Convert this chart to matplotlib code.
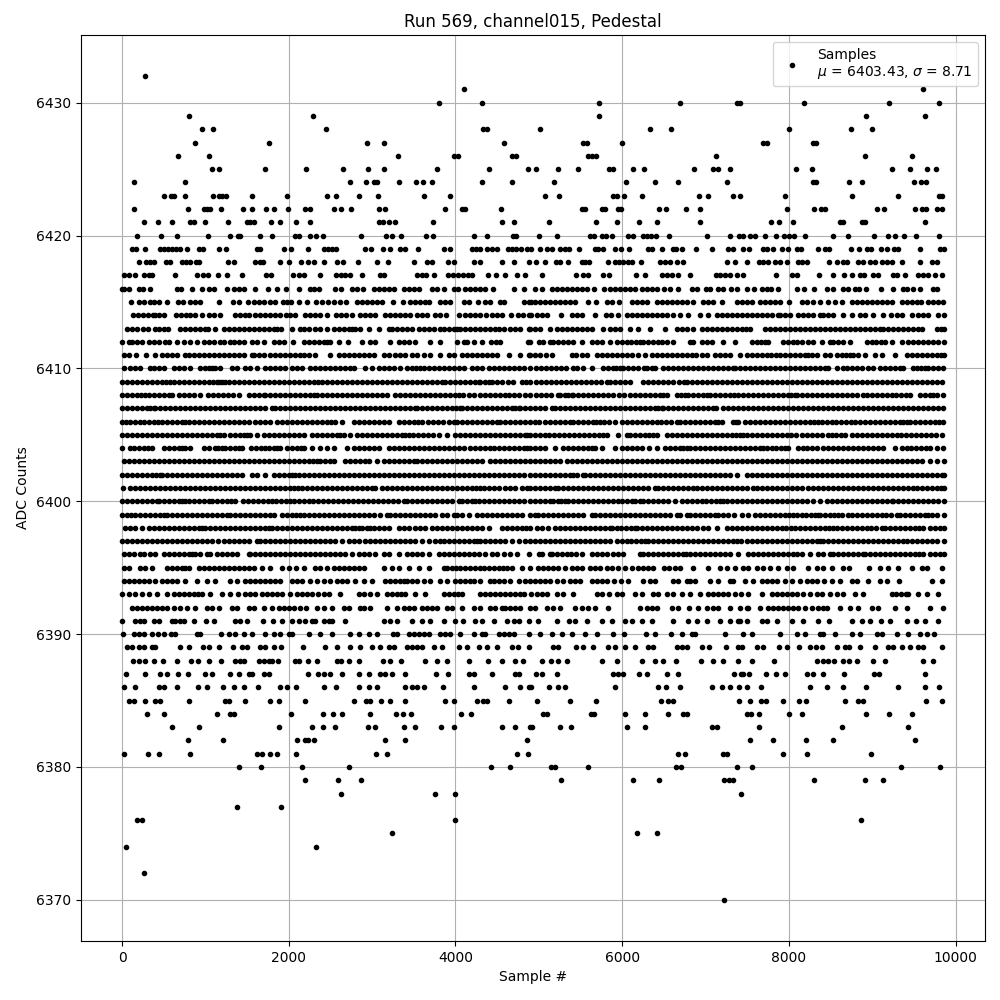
"""
plot.py

Pedestal samples for one ADC channel. ADC counts are integers, so the sample
numbers are kept in one list per count, as read off the picture.
"""

import matplotlib
matplotlib.use("Agg")
import matplotlib.pyplot as plt

s6432 = [272]
s6431 = [4100, 9612]
s6430 = [3800, 4320, 5724, 6696, 7380, 7412, 8184, 9204, 9796]
s6429 = [800, 2288, 5724, 8928, 9628]
s6428 = [956, 1088, 2444, 4332, 4380, 5016, 6328, 6588, 8004, 8748, 9000]
s6427 = [872, 1760, 2936, 3140, 4580, 5532, 5572, 5992, 7692, 7732, 8292, 8320]
s6426 = [668, 1040, 3308, 3988, 4028, 4676, 4732, 5592, 5632, 5688, 7128, 8916, 9480]
s6425 = [1076, 1160, 1712, 2204, 2648, 2948, 3140, 3776, 4400, 4872, 4964, 5232, 5472, 5844, 5884,
         6132, 6264, 6864, 7092, 7152, 7296, 8088, 8280, 9240, 9456, 9660, 9768]
s6424 = [140, 752, 2732, 2924, 3020, 3060, 3320, 3524, 3608, 3716, 4316, 4676, 5184, 6040, 6396,
         6664, 7260, 8292, 8320, 8724, 8880, 9504, 9588, 9648]
s6423 = [500, 584, 620, 752, 1088, 1160, 1200, 1248, 1556, 1976, 2460, 2568, 2840, 3068, 3620, 3932,
         5076, 5244, 5892, 5940, 6024, 6240, 6924, 7032, 7332, 7416, 7956, 8760, 9312, 9804, 9836]
s6422 = [140, 788, 980, 1020, 1060, 1184, 1448, 1556, 1724, 1820, 1988, 2192, 2252, 2540, 2628, 2744,
         3080, 3152, 3872, 4080, 4120, 4544, 5520, 5556, 5760, 5796, 5952, 5980, 6444, 6528, 6768,
         6936, 7980, 8304, 8388, 8436, 9060, 9144, 9516, 9600, 9648, 9780, 9840]
s6421 = [260, 428, 596, 820, 868, 992, 1268, 1500, 1540, 1580, 1784, 1892, 2084, 2252, 3080, 3128,
         3200, 3272, 3728, 4556, 4708, 5124, 5688, 5940, 6204, 6420, 6936, 7788, 7884, 8052, 8616,
         8652, 8880, 8912, 9628]
s6420 = [176, 464, 656, 1028, 1292, 1388, 1420, 1652, 1796, 2072, 2128, 2252, 2324, 2408, 2864, 3164,
         3236, 3352, 3644, 3728, 4220, 4376, 4692, 4732, 5004, 5220, 5616, 5664, 5760, 5808, 5880,
         6072, 6132, 6252, 6300, 6348, 6408, 6564, 7020, 7296, 7404, 7452, 7536, 7596, 7716, 7848,
         7944, 8004, 8064, 8196, 8532, 8712, 9024, 9192, 9276, 9384, 9528, 9804]
s6419 = [120, 172, 272, 452, 500, 548, 596, 644, 692, 776, 920, 968, 1160, 1244, 1620, 1660, 1940, 2024,
         2228, 2420, 2468, 2516, 2564, 2912, 2984, 3128, 3212, 3332, 3392, 3548, 3860, 3932, 4200,
         4248, 4300, 4380, 4440, 4500, 4628, 4680, 4732, 4788, 4860, 4912, 5016, 5092, 5152, 5252,
         5312, 5364, 5484, 5672, 5712, 5772, 5912, 5980, 6084, 6312, 6352, 6480, 6612, 6644, 6712,
         6888, 7080, 7272, 7332, 7452, 7524, 7692, 7740, 7812, 7912, 7992, 8092, 8140, 8352, 8432,
         8480, 8748, 8840, 8932, 8980, 9100, 9180, 9260, 9312, 9576, 9812, 9860]
s6418 = [200, 292, 340, 388, 524, 572, 716, 764, 812, 884, 920, 1268, 1340, 1592, 1660, 1692, 1900, 2000,
         2144, 2228, 2300, 2420, 2580, 2648, 2832, 3056, 3188, 3500, 3656, 3716, 3908, 3980, 4220,
         4300, 4556, 4700, 4880, 4960, 5072, 5204, 5252, 5352, 5512, 5552, 5600, 5832, 5912, 5964,
         6012, 6072, 6112, 6228, 6452, 6512, 6572, 6652, 6732, 7260, 7352, 7500, 7644, 7692, 7752,
         7832, 7892, 7972, 8112, 8152, 8220, 8484, 8572, 8644, 8692, 8832, 8892, 8972, 9032, 9112,
         9172, 9232, 9352, 9576, 9712, 9780]
s6417 = [28, 80, 160, 260, 320, 360, 632, 900, 972, 1028, 1148, 1256, 1436, 1728, 1788, 2052, 2120, 2188,
         2376, 2572, 2628, 2680, 2732, 2880, 3092, 3140, 3540, 3596, 3652, 3740, 3908, 3972, 4028,
         4092, 4148, 4200, 4388, 4484, 4592, 4736, 4840, 5040, 5444, 5532, 5592, 5772, 5844, 6168,
         6276, 6472, 6532, 6592, 6672, 6812, 7120, 7172, 7232, 7292, 7372, 7444, 7848, 8040, 8092,
         8364, 8532, 8664, 8760, 8852, 8900, 9012, 9072, 9252, 9292, 9396, 9552, 9612, 9672, 9752, 9840]
s6416 = [0, 28, 80, 200, 252, 340, 660, 708, 836, 960, 1040, 1100, 1256, 1340, 1400, 1460, 1592, 1748,
         1856, 1964, 2120, 2252, 2300, 2360, 2552, 2628, 2760, 2820, 2888, 3020, 3080, 3140, 3200,
         3260, 3380, 3440, 3500, 3560, 3720, 3780, 3860, 3980, 4028, 4120, 4180, 4240, 4300, 4360,
         4448, 4700, 4820, 4952, 5032, 5152, 5212, 5272, 5332, 5392, 5452, 5512, 5572, 5664, 5780,
         5852, 5912, 5972, 6032, 6092, 6152, 6232, 6292, 6352, 6412, 6504, 6572, 6672, 6832, 6892,
         7000, 7052, 7152, 7212, 7304, 7380, 7492, 7580, 7672, 7732, 7780, 7872, 8100, 8184, 8304,
         8452, 8532, 8652, 8712, 8792, 8840, 8928, 9100, 9244, 9364, 9420, 9492, 9572, 9724, 9772]
s6415 = [108, 200, 260, 332, 380, 440, 536, 668, 732, 820, 880, 940, 1160, 1332, 1400, 1512, 1580, 1640,
         1700, 1780, 1840, 1932, 1980, 2028, 2120, 2220, 2332, 2400, 2468, 2540, 2612, 2692, 2820,
         2880, 2940, 3000, 3060, 3120, 3256, 3368, 3460, 3520, 3580, 3640, 3680, 3820, 3880, 3940,
         4100, 4160, 4268, 4360, 4412, 4540, 4580, 4820, 4880, 4912, 4952, 5012, 5072, 5132, 5192,
         5252, 5312, 5372, 5432, 5592, 5688, 5812, 5872, 5964, 6112, 6172, 6232, 6292, 6412, 6472,
         6532, 6592, 6652, 6712, 6772, 6852, 6972, 7032, 7092, 7200, 7372, 7432, 7492, 7552, 7652,
         7712, 7772, 7832, 7892, 8004, 8152, 8212, 8284, 8372, 8472, 8552, 8640, 8752, 8812, 8872,
         8932, 8992, 9052, 9112, 9172, 9232, 9352, 9412, 9472, 9532, 9580, 9672, 9732, 9792, 9852]
s6414 = [128, 188, 248, 308, 368, 400, 444, 500, 652, 712, 772, 820, 880, 960, 1040, 1108, 1172, 1352,
         1420, 1480, 1520, 1592, 1660, 1720, 1780, 1840, 1900, 1972, 2020, 2080, 2192, 2260, 2320,
         2380, 2460, 2572, 2632, 2692, 2760, 2860, 2920, 2980, 3040, 3160, 3220, 3280, 3340, 3400,
         3460, 3540, 3600, 3660, 3760, 3820, 3892, 4040, 4120, 4172, 4240, 4300, 4368, 4440, 4500,
         4560, 4668, 4748, 4810, 4880, 4912, 4972, 5032, 5092, 5260, 5392, 5452, 5512, 5676, 5804,
         5864, 5952, 6052, 6112, 6172, 6232, 6292, 6352, 6412, 6472, 6532, 6612, 6692, 6792, 6932,
         7032, 7132, 7192, 7252, 7312, 7372, 7432, 7492, 7552, 7612, 7672, 7732, 7792, 7872, 7892,
         7952, 8012, 8112, 8172, 8232, 8292, 8372, 8412, 8472, 8532, 8652, 8760, 8852, 8912, 9012,
         9132, 9220, 9292, 9352, 9472, 9552, 9612, 9672, 9792, 9860]
s6413 = [60, 120, 180, 248, 312, 400, 440, 500, 548, 700, 760, 820, 880, 940, 1000, 1028, 1120, 1220, 1280,
         1340, 1400, 1460, 1520, 1580, 1640, 1700, 1760, 1820, 1860, 1904, 2040, 2140, 2188, 2248,
         2320, 2380, 2460, 2540, 2600, 2660, 2720, 2760, 2800, 2860, 2960, 3080, 3200, 3240, 3300,
         3360, 3420, 3480, 3560, 3620, 3680, 3740, 3820, 3868, 3928, 3980, 4020, 4060, 4120, 4180,
         4240, 4300, 4360, 4420, 4480, 4520, 4580, 4660, 4720, 4780, 4880, 4892, 4952, 5012, 5132,
         5212, 5272, 5332, 5392, 5452, 5512, 5572, 5632, 5772, 5852, 5912, 5972, 6092, 6192, 6332,
         6512, 6652, 6712, 6772, 6852, 6952, 7012, 7072, 7132, 7192, 7252, 7312, 7372, 7432, 7480,
         7532, 7712, 7772, 7832, 7892, 7952, 8012, 8072, 8132, 8192, 8252, 8312, 8372, 8432, 8492,
         8552, 8612, 8672, 8732, 8792, 8852, 8910, 8972, 9032, 9092, 9132, 9192, 9252, 9312, 9372,
         9432, 9492, 9550, 9592, 9772, 9820, 9860]
s6412 = [0, 80, 120, 180, 240, 320, 380, 440, 520, 560, 660, 740, 820, 900, 980, 1040, 1100, 1180, 1220,
         1300, 1340, 1400, 1460, 1560, 1620, 1700, 1820, 1880, 1940, 2052, 2180, 2240, 2300, 2360,
         2420, 2460, 2500, 2600, 2708, 2880, 2980, 3040, 3220, 3320, 3388, 3448, 3520, 3692, 3812,
         4020, 4100, 4140, 4220, 4320, 4428, 4488, 4540, 4872, 4892, 5000, 5052, 5132, 5172, 5232,
         5292, 5352, 5412, 5512, 5632, 5692, 5752, 5852, 5932, 5992, 6052, 6110, 6160, 6212, 6252,
         6312, 6372, 6432, 6480, 6532, 6612, 6812, 6852, 6952, 7012, 7072, 7212, 7352, 7552, 7612,
         7670, 7710, 7752, 7932, 7992, 8052, 8100, 8152, 8232, 8292, 8392, 8492, 8532, 8592, 8652,
         8732, 8932, 8992, 9050, 9100, 9152, 9232, 9352, 9432, 9492, 9552, 9612, 9672, 9732, 9792, 9860]
s6411 = [20, 80, 172, 288, 400, 480, 540, 600, 660, 760, 800, 860, 920, 980, 1040, 1100, 1160, 1220, 1280,
         1340, 1400, 1460, 1560, 1580, 1640, 1700, 1780, 1840, 1900, 1960, 2020, 2080, 2130, 2180,
         2240, 2320, 2500, 2600, 2660, 2720, 2780, 2840, 2900, 2960, 3020, 3140, 3200, 3280, 3340,
         3400, 3480, 3540, 3620, 3700, 3820, 3920, 3980, 4080, 4140, 4200, 4260, 4320, 4380, 4440,
         4500, 4640, 4780, 4880, 4892, 4952, 5012, 5080, 5152, 5392, 5450, 5512, 5572, 5692, 5752,
         5812, 5872, 5932, 5992, 6052, 6112, 6192, 6272, 6352, 6412, 6472, 6532, 6592, 6652, 6712,
         6772, 6832, 6890, 6952, 7012, 7112, 7170, 7230, 7292, 7412, 7492, 7552, 7612, 7672, 7732,
         7790, 7840, 7892, 7952, 8012, 8072, 8132, 8190, 8230, 8272, 8332, 8432, 8492, 8572, 8632,
         8690, 8730, 8772, 8832, 8912, 9032, 9112, 9272, 9412, 9472, 9532, 9592, 9652, 9712, 9772,
         9820, 9860]
s6410 = [20, 100, 160, 220, 340, 380, 440, 500, 620, 680, 740, 812, 940, 1000, 1040, 1080, 1120, 1180, 1320,
         1380, 1480, 1540, 1620, 1720, 1780, 1840, 1900, 1960, 2040, 2100, 2160, 2260, 2320, 2380,
         2440, 2500, 2560, 2620, 2680, 2740, 2780, 2920, 3000, 3080, 3140, 3200, 3260, 3340, 3420,
         3480, 3530, 3580, 3620, 3680, 3740, 3800, 3860, 3920, 3980, 4040, 4100, 4200, 4260, 4320,
         4400, 4460, 4520, 4580, 4640, 4700, 4760, 4820, 4900, 4960, 5020, 5080, 5140, 5200, 5260,
         5330, 5412, 5452, 5532, 5632, 5772, 5832, 5890, 5930, 5972, 6012, 6072, 6132, 6192, 6260,
         6300, 6352, 6396, 6492, 6552, 6612, 6672, 6732, 6792, 6852, 6912, 6972, 7032, 7092, 7152,
         7212, 7272, 7332, 7352, 7412, 7472, 7532, 7592, 7652, 7712, 7772, 7832, 7892, 7952, 8012,
         8072, 8132, 8192, 8252, 8312, 8372, 8432, 8472, 8572, 8652, 8692, 8752, 8812, 8872, 8952,
         9012, 9092, 9152, 9212, 9272, 9332, 9372, 9492, 9532, 9590, 9630, 9672, 9732, 9790, 9852]
s6409 = [0, 60, 120, 180, 240, 300, 360, 420, 480, 530, 580, 620, 680, 740, 800, 860, 920, 980, 1040, 1090, 1140,
         1160, 1200, 1240, 1280, 1340, 1400, 1460, 1520, 1580, 1640, 1700, 1760, 1820, 1880, 1940,
         2000, 2060, 2120, 2180, 2240, 2300, 2350, 2400, 2460, 2520, 2580, 2640, 2700, 2760, 2820,
         2880, 2940, 3000, 3060, 3120, 3180, 3240, 3300, 3360, 3420, 3480, 3540, 3600, 3660, 3720,
         3780, 3840, 3880, 3940, 4000, 4060, 4120, 4180, 4230, 4280, 4300, 4350, 4400, 4440, 4500,
         4560, 4630, 4692, 4800, 4850, 4900, 4960, 5020, 5080, 5140, 5200, 5260, 5320, 5380, 5440,
         5500, 5560, 5620, 5680, 5750, 5812, 5852, 5912, 5972, 6032, 6092, 6252, 6312, 6372, 6432,
         6492, 6552, 6612, 6680, 6740, 6780, 6840, 6900, 6960, 7020, 7080, 7140, 7200, 7260, 7320,
         7380, 7440, 7500, 7560, 7620, 7680, 7740, 7800, 7860, 7920, 7980, 8040, 8100, 8160, 8220,
         8280, 8340, 8400, 8460, 8520, 8580, 8640, 8700, 8760, 8820, 8880, 8940, 9000, 9060, 9120,
         9180, 9240, 9300, 9360, 9420, 9480, 9540, 9600, 9660, 9720, 9780, 9840]
s6408 = [0, 60, 120, 180, 230, 280, 320, 380, 440, 500, 560, 600, 680, 740, 800, 860, 932, 1028, 1088, 1148, 1208,
         1270, 1330, 1400, 1520, 1580, 1640, 1700, 1720, 1780, 1840, 1900, 1960, 2020, 2080, 2140,
         2200, 2250, 2300, 2340, 2400, 2460, 2520, 2580, 2640, 2700, 2760, 2820, 2880, 2940, 3000,
         3060, 3120, 3180, 3280, 3340, 3400, 3460, 3520, 3580, 3640, 3700, 3760, 3820, 3880, 3940,
         4000, 4040, 4092, 4160, 4220, 4300, 4360, 4420, 4480, 4540, 4590, 4640, 4700, 4760, 4830,
         4900, 4960, 5020, 5080, 5140, 5232, 5252, 5310, 5350, 5392, 5412, 5472, 5532, 5592, 5652,
         5712, 5772, 5830, 5892, 5964, 6024, 6090, 6152, 6212, 6272, 6332, 6390, 6450, 6490, 6532,
         6660, 6700, 6752, 6792, 6852, 6910, 6970, 7012, 7052, 7112, 7172, 7232, 7290, 7340, 7392,
         7452, 7512, 7572, 7632, 7692, 7752, 7812, 7872, 7932, 7990, 8030, 8072, 8100, 8160, 8220,
         8280, 8340, 8400, 8460, 8520, 8580, 8640, 8700, 8760, 8820, 8892, 8932, 8992, 9052, 9112,
         9172, 9232, 9290, 9350, 9400, 9452, 9572, 9632, 9690, 9730, 9780, 9852]
s6407 = [0, 60, 120, 180, 240, 300, 340, 380, 400, 460, 520, 580, 640, 700, 760, 820, 880, 940, 1000, 1060, 1120,
         1180, 1240, 1300, 1360, 1420, 1480, 1540, 1600, 1660, 1720, 1800, 1840, 1900, 1960, 2020,
         2080, 2140, 2200, 2260, 2320, 2380, 2440, 2500, 2560, 2620, 2680, 2740, 2800, 2860, 2920,
         2980, 3040, 3100, 3160, 3220, 3280, 3340, 3400, 3460, 3520, 3540, 3600, 3660, 3720, 3780,
         3840, 3900, 3960, 4010, 4060, 4080, 4140, 4200, 4260, 4320, 4380, 4440, 4500, 4560, 4620,
         4680, 4720, 4760, 4780, 4840, 4900, 4952, 5012, 5072, 5152, 5192, 5252, 5312, 5372, 5432,
         5492, 5552, 5612, 5672, 5732, 5792, 5852, 5912, 5972, 6032, 6092, 6152, 6212, 6272, 6332,
         6390, 6430, 6472, 6492, 6552, 6612, 6672, 6732, 6792, 6852, 6912, 6972, 7030, 7092, 7124,
         7212, 7264, 7324, 7384, 7444, 7504, 7564, 7624, 7684, 7744, 7804, 7864, 7924, 7984, 8044,
         8104, 8164, 8224, 8284, 8344, 8404, 8464, 8524, 8584, 8644, 8704, 8764, 8824, 8884, 8944,
         9004, 9064, 9124, 9184, 9244, 9304, 9364, 9424, 9484, 9544, 9604, 9664, 9724, 9784, 9844]
s6406 = [0, 50, 100, 160, 210, 260, 320, 380, 430, 480, 540, 600, 660, 720, 760, 800, 860, 920, 980, 1040, 1100,
         1160, 1220, 1280, 1340, 1400, 1460, 1520, 1600, 1660, 1720, 1780, 1860, 1920, 1980, 2040,
         2100, 2160, 2220, 2280, 2340, 2400, 2460, 2510, 2560, 2640, 2780, 2840, 2900, 2960, 3020,
         3080, 3140, 3200, 3320, 3380, 3440, 3500, 3550, 3600, 3668, 3728, 3788, 3848, 3920, 3980,
         4020, 4080, 4140, 4200, 4260, 4320, 4380, 4440, 4500, 4540, 4600, 4660, 4720, 4780, 4840,
         4900, 4950, 5000, 5072, 5132, 5192, 5250, 5310, 5372, 5412, 5472, 5532, 5590, 5650, 5690,
         5732, 5780, 5840, 5912, 5992, 6052, 6112, 6172, 6232, 6292, 6352, 6412, 6470, 6530, 6590,
         6652, 6692, 6752, 6812, 6872, 6932, 6990, 7050, 7110, 7150, 7192, 7332, 7360, 7392, 7472,
         7532, 7592, 7652, 7712, 7772, 7832, 7892, 7952, 8012, 8072, 8132, 8192, 8250, 8300, 8352,
         8392, 8452, 8512, 8570, 8630, 8690, 8740, 8792, 8852, 8910, 8970, 9032, 9092, 9152, 9212,
         9270, 9330, 9370, 9412, 9452, 9512, 9572, 9632, 9692, 9750, 9800, 9852]
s6405 = [0, 60, 120, 180, 240, 300, 360, 420, 480, 540, 600, 660, 720, 780, 840, 900, 960, 1020, 1080, 1140, 1180,
         1220, 1300, 1360, 1420, 1460, 1500, 1540, 1620, 1700, 1760, 1820, 1880, 1940, 2000, 2060,
         2120, 2180, 2280, 2340, 2400, 2460, 2520, 2580, 2620, 2660, 2740, 2820, 2880, 2940, 3000,
         3060, 3120, 3180, 3240, 3300, 3360, 3400, 3440, 3488, 3548, 3610, 3670, 3730, 3800, 3900,
         4000, 4060, 4120, 4180, 4240, 4300, 4360, 4420, 4480, 4540, 4600, 4660, 4720, 4780, 4830,
         4860, 4892, 4950, 5010, 5072, 5124, 5184, 5244, 5304, 5364, 5424, 5484, 5544, 5600, 5660,
         5720, 5770, 5812, 5952, 6052, 6092, 6152, 6210, 6270, 6320, 6372, 6420, 6540, 6600, 6660,
         6720, 6780, 6840, 6900, 6960, 7020, 7080, 7140, 7192, 7252, 7312, 7370, 7410, 7452, 7492,
         7552, 7612, 7672, 7732, 7792, 7852, 7912, 7972, 8030, 8090, 8152, 8220, 8280, 8340, 8400,
         8472, 8512, 8570, 8620, 8672, 8752, 8812, 8872, 8932, 8992, 9052, 9112, 9172, 9232, 9292,
         9350, 9410, 9470, 9530, 9590, 9650, 9710, 9770, 9832]
s6404 = [0, 92, 140, 200, 260, 310, 360, 500, 560, 620, 680, 720, 760, 820, 988, 1048, 1110, 1150, 1200, 1240,
         1300, 1360, 1400, 1440, 1548, 1610, 1670, 1720, 1760, 1820, 1860, 1900, 1980, 2040, 2100,
         2150, 2188, 2280, 2380, 2460, 2540, 2700, 2780, 2840, 2900, 2960, 3020, 3080, 3200, 3260,
         3320, 3380, 3440, 3500, 3560, 3620, 3680, 3740, 3800, 3860, 3920, 3980, 4040, 4100, 4180,
         4240, 4300, 4360, 4420, 4460, 4520, 4580, 4640, 4700, 4760, 4820, 4860, 4900, 4950, 5010,
         5072, 5192, 5292, 5352, 5412, 5472, 5530, 5590, 5640, 5672, 5752, 5912, 5992, 6052, 6112,
         6172, 6240, 6324, 6412, 6512, 6572, 6632, 6690, 6730, 6772, 6812, 6872, 6932, 6992, 7052,
         7112, 7172, 7232, 7292, 7352, 7412, 7472, 7532, 7590, 7650, 7690, 7732, 7792, 7850, 7910,
         7950, 7992, 8112, 8170, 8220, 8272, 8340, 8412, 8472, 8532, 8592, 8652, 8712, 8772, 8832,
         8892, 8950, 9010, 9070, 9132, 9272, 9352, 9412, 9470, 9530, 9590, 9640, 9692, 9772, 9852]
s6403 = [20, 80, 140, 200, 260, 320, 380, 440, 500, 560, 620, 680, 740, 800, 860, 920, 980, 1040, 1100, 1160,
         1220, 1280, 1340, 1400, 1460, 1520, 1580, 1640, 1700, 1760, 1820, 1880, 1940, 2000, 2060,
         2120, 2180, 2240, 2290, 2340, 2380, 2440, 2490, 2540, 2680, 2740, 2800, 2860, 2920, 2960,
         3060, 3140, 3200, 3260, 3320, 3380, 3440, 3500, 3540, 3600, 3660, 3720, 3780, 3840, 3900,
         3960, 4020, 4080, 4140, 4200, 4260, 4320, 4420, 4480, 4540, 4600, 4660, 4720, 4780, 4840,
         4900, 4952, 5012, 5070, 5130, 5190, 5252, 5340, 5400, 5460, 5520, 5580, 5640, 5700, 5760,
         5820, 5880, 5940, 6000, 6060, 6120, 6180, 6240, 6300, 6360, 6420, 6480, 6540, 6600, 6660,
         6720, 6780, 6840, 6900, 6960, 7020, 7080, 7140, 7200, 7260, 7320, 7380, 7440, 7500, 7560,
         7620, 7680, 7740, 7800, 7860, 7920, 7980, 8040, 8100, 8160, 8220, 8280, 8340, 8400, 8460,
         8520, 8580, 8640, 8700, 8760, 8820, 8880, 8940, 9000, 9060, 9120, 9180, 9240, 9300, 9360,
         9420, 9480, 9540, 9600, 9692, 9772, 9860]
s6402 = [0, 60, 120, 180, 240, 300, 360, 410, 460, 480, 540, 600, 660, 720, 780, 840, 900, 960, 1020, 1080, 1140,
         1200, 1260, 1320, 1380, 1440, 1560, 1620, 1720, 1820, 1880, 1940, 2000, 2040, 2080, 2120,
         2180, 2240, 2300, 2360, 2420, 2480, 2540, 2600, 2660, 2720, 2780, 2840, 2900, 2960, 3020,
         3080, 3140, 3200, 3260, 3320, 3380, 3440, 3500, 3560, 3620, 3680, 3740, 3800, 3860, 3920,
         3980, 4040, 4100, 4160, 4220, 4280, 4340, 4400, 4460, 4520, 4580, 4640, 4700, 4760, 4820,
         4900, 4952, 5012, 5072, 5132, 5192, 5252, 5312, 5372, 5412, 5452, 5532, 5552, 5612, 5672,
         5732, 5792, 5852, 5912, 5972, 6032, 6092, 6152, 6212, 6272, 6332, 6392, 6452, 6512, 6572,
         6632, 6692, 6752, 6812, 6872, 6932, 6992, 7052, 7112, 7172, 7232, 7292, 7372, 7492, 7552,
         7612, 7672, 7732, 7792, 7852, 7912, 7972, 8032, 8092, 8152, 8212, 8272, 8332, 8392, 8452,
         8512, 8572, 8632, 8692, 8752, 8812, 8872, 8932, 8992, 9052, 9112, 9172, 9232, 9292, 9352,
         9412, 9472, 9532, 9592, 9652, 9712, 9772, 9832, 9860]
s6401 = [8, 100, 160, 220, 280, 340, 400, 460, 520, 580, 640, 700, 760, 820, 880, 940, 1000, 1060, 1120, 1180,
         1240, 1300, 1360, 1420, 1480, 1540, 1600, 1660, 1720, 1780, 1840, 1900, 1960, 2020, 2060,
         2108, 2160, 2220, 2280, 2340, 2400, 2460, 2520, 2580, 2640, 2700, 2760, 2820, 2880, 2940,
         3000, 3040, 3120, 3180, 3240, 3300, 3360, 3420, 3480, 3540, 3600, 3660, 3720, 3780, 3840,
         3900, 3960, 4020, 4080, 4140, 4200, 4250, 4300, 4340, 4400, 4460, 4520, 4590, 4660, 4720,
         4800, 4860, 4892, 4952, 5012, 5072, 5132, 5192, 5232, 5292, 5352, 5412, 5472, 5532, 5592,
         5652, 5712, 5772, 5832, 5892, 5952, 6012, 6072, 6132, 6192, 6252, 6312, 6392, 6432, 6492,
         6552, 6612, 6672, 6732, 6792, 6852, 6892, 6952, 7012, 7072, 7132, 7192, 7252, 7312, 7372,
         7432, 7492, 7572, 7612, 7672, 7732, 7792, 7852, 7912, 7972, 8032, 8092, 8152, 8232, 8292,
         8352, 8412, 8472, 8532, 8592, 8652, 8712, 8772, 8832, 8892, 8952, 9012, 9072, 9132, 9192,
         9252, 9312, 9372, 9432, 9490, 9532, 9592, 9652, 9712, 9772, 9820, 9860]
s6400 = [0, 60, 120, 180, 240, 300, 360, 420, 440, 500, 560, 620, 680, 720, 760, 800, 860, 920, 980, 1040, 1080,
         1140, 1200, 1260, 1310, 1360, 1452, 1512, 1572, 1630, 1690, 1750, 1800, 1848, 1910, 1970,
         2020, 2060, 2120, 2180, 2240, 2288, 2348, 2408, 2468, 2528, 2588, 2648, 2708, 2768, 2828,
         2888, 2948, 3008, 3068, 3128, 3188, 3248, 3308, 3380, 3420, 3480, 3540, 3600, 3660, 3720,
         3780, 3840, 3900, 3960, 4040, 4080, 4140, 4200, 4240, 4280, 4340, 4400, 4460, 4520, 4580,
         4640, 4700, 4760, 4820, 4900, 4952, 5012, 5072, 5132, 5172, 5230, 5270, 5312, 5352, 5412,
         5470, 5530, 5592, 5644, 5704, 5764, 5824, 5884, 5944, 6000, 6060, 6112, 6152, 6212, 6252,
         6312, 6372, 6432, 6492, 6552, 6632, 6712, 6772, 6832, 6892, 6952, 7010, 7070, 7130, 7170,
         7212, 7252, 7312, 7372, 7432, 7492, 7552, 7612, 7672, 7732, 7792, 7852, 7912, 7972, 8032,
         8092, 8152, 8212, 8292, 8372, 8460, 8520, 8580, 8640, 8700, 8760, 8820, 8880, 8940, 9000,
         9060, 9120, 9180, 9232, 9252, 9312, 9372, 9432, 9492, 9552, 9612, 9672, 9732, 9792, 9860]
s6399 = [0, 60, 110, 160, 220, 280, 340, 400, 460, 500, 540, 600, 660, 720, 780, 840, 900, 960, 1020, 1080, 1140,
         1200, 1260, 1300, 1360, 1420, 1480, 1540, 1600, 1660, 1720, 1770, 1820, 1920, 1980, 2040,
         2090, 2140, 2180, 2240, 2300, 2360, 2420, 2480, 2540, 2600, 2660, 2720, 2780, 2840, 2900,
         2960, 3020, 3100, 3180, 3220, 3280, 3340, 3400, 3460, 3520, 3580, 3640, 3700, 3760, 3840,
         3900, 3980, 4020, 4080, 4160, 4260, 4320, 4380, 4440, 4500, 4560, 4620, 4680, 4740, 4800,
         4900, 4952, 4992, 5052, 5112, 5172, 5232, 5292, 5352, 5412, 5472, 5532, 5632, 5672, 5732,
         5792, 5852, 5912, 5972, 6032, 6092, 6152, 6212, 6272, 6332, 6392, 6452, 6512, 6572, 6652,
         6692, 6772, 6812, 6872, 6930, 6990, 7050, 7112, 7152, 7210, 7270, 7340, 7432, 7512, 7592,
         7652, 7712, 7772, 7832, 7890, 7950, 8000, 8052, 8092, 8152, 8210, 8270, 8310, 8352, 8372,
         8432, 8490, 8540, 8592, 8632, 8712, 8752, 8812, 8872, 8932, 8992, 9052, 9112, 9170, 9230,
         9292, 9332, 9392, 9452, 9512, 9570, 9630, 9670, 9712, 9772, 9860]
s6398 = [40, 100, 160, 240, 320, 380, 440, 500, 560, 620, 680, 740, 800, 860, 920, 960, 1000, 1060, 1120, 1180, 1240,
         1300, 1360, 1420, 1480, 1540, 1600, 1660, 1710, 1760, 1800, 1860, 1920, 1980, 2040, 2100,
         2160, 2220, 2280, 2340, 2400, 2460, 2520, 2580, 2640, 2700, 2760, 2800, 2840, 2880, 2940,
         2980, 3020, 3080, 3140, 3200, 3320, 3380, 3440, 3520, 3580, 3640, 3720, 3780, 3840, 3900,
         3960, 4020, 4080, 4140, 4200, 4260, 4320, 4400, 4560, 4620, 4680, 4740, 4800, 4850, 4900,
         4980, 5032, 5112, 5192, 5252, 5312, 5372, 5432, 5492, 5552, 5612, 5670, 5730, 5790, 5852,
         5872, 5932, 5990, 6050, 6100, 6152, 6172, 6232, 6292, 6352, 6412, 6472, 6532, 6592, 6652,
         6712, 6772, 6832, 6892, 6972, 7032, 7132, 7252, 7312, 7372, 7432, 7492, 7552, 7612, 7672,
         7732, 7792, 7852, 7912, 7970, 8020, 8072, 8132, 8192, 8252, 8312, 8370, 8430, 8480, 8532,
         8572, 8632, 8692, 8752, 8812, 8872, 8932, 8990, 9050, 9112, 9152, 9212, 9272, 9332, 9392,
         9450, 9510, 9560, 9612, 9692, 9752, 9810, 9860]
s6397 = [0, 60, 120, 180, 240, 300, 360, 420, 480, 540, 600, 660, 720, 780, 840, 900, 960, 1020, 1080, 1150, 1220,
         1280, 1340, 1400, 1460, 1520, 1620, 1660, 1720, 1780, 1840, 1900, 1960, 2020, 2080, 2140,
         2200, 2260, 2320, 2380, 2440, 2500, 2560, 2640, 2720, 2780, 2840, 2920, 2980, 3040, 3100,
         3160, 3220, 3280, 3340, 3400, 3460, 3520, 3600, 3680, 3760, 3820, 3860, 3920, 3980, 4040,
         4100, 4160, 4220, 4260, 4300, 4360, 4420, 4480, 4540, 4600, 4680, 4760, 4840, 4900, 4952,
         5012, 5072, 5132, 5192, 5252, 5312, 5372, 5432, 5492, 5552, 5612, 5672, 5730, 5790, 5852,
         5932, 5992, 6052, 6110, 6170, 6220, 6272, 6312, 6372, 6432, 6492, 6552, 6612, 6672, 6732,
         6792, 6852, 6912, 6972, 7032, 7092, 7152, 7212, 7272, 7332, 7372, 7430, 7492, 7552, 7612,
         7672, 7732, 7792, 7852, 7912, 7972, 8032, 8092, 8152, 8212, 8272, 8332, 8372, 8404, 8464,
         8524, 8584, 8644, 8704, 8764, 8824, 8884, 8952, 9012, 9072, 9132, 9190, 9250, 9310, 9372,
         9412, 9472, 9532, 9592, 9652, 9712, 9772, 9860]
s6396 = [28, 80, 140, 212, 268, 330, 400, 500, 560, 620, 680, 740, 800, 840, 880, 940, 1020, 1060, 1140, 1200, 1260,
         1320, 1380, 1520, 1540, 1600, 1660, 1720, 1780, 1840, 1900, 1960, 2020, 2080, 2140, 2200,
         2260, 2320, 2380, 2440, 2500, 2560, 2620, 2680, 2760, 2840, 2900, 2960, 3040, 3140, 3200,
         3320, 3420, 3480, 3540, 3600, 3680, 3800, 3860, 3920, 3980, 4040, 4100, 4160, 4220, 4280,
         4360, 4440, 4500, 4580, 4660, 4740, 4880, 5000, 5032, 5132, 5152, 5212, 5272, 5332, 5390,
         5450, 5512, 5632, 5692, 5752, 5820, 5892, 5952, 6012, 6212, 6252, 6312, 6372, 6432, 6492,
         6552, 6612, 6672, 6732, 6770, 6812, 6872, 6932, 6992, 7052, 7112, 7172, 7232, 7292, 7392,
         7512, 7572, 7632, 7692, 7750, 7810, 7870, 7932, 7992, 8050, 8100, 8152, 8252, 8352, 8412,
         8492, 8532, 8592, 8652, 8712, 8772, 8832, 8892, 8912, 8972, 9032, 9092, 9150, 9210, 9270,
         9332, 9392, 9450, 9510, 9560, 9612, 9692, 9750, 9810, 9860]
s6395 = [20, 80, 220, 280, 360, 540, 600, 660, 720, 760, 800, 920, 980, 1040, 1100, 1160, 1220, 1280, 1340, 1400,
         1460, 1520, 1580, 1680, 1780, 1920, 2000, 2088, 2180, 2320, 2380, 2460, 2540, 2600, 2660,
         2720, 2780, 2840, 2900, 3140, 3240, 3320, 3440, 3560, 3680, 3860, 3900, 3960, 4010, 4060,
         4120, 4180, 4240, 4290, 4340, 4400, 4460, 4520, 4570, 4620, 4680, 4800, 4900, 4992, 5052,
         5112, 5172, 5232, 5312, 5392, 5452, 5512, 5612, 5672, 5732, 5812, 5872, 5952, 6032, 6112,
         6192, 6252, 6312, 6372, 6500, 6560, 6632, 6692, 6852, 7032, 7172, 7252, 7352, 7452, 7512,
         7612, 7692, 7772, 7872, 7972, 8052, 8232, 8332, 8412, 8512, 8652, 8724, 8964, 9092, 9192,
         9312, 9472, 9592, 9652, 9832]
s6394 = [20, 80, 140, 200, 260, 320, 400, 480, 540, 600, 660, 760, 900, 1020, 1120, 1300, 1380, 1480, 1540, 1600,
         1660, 1720, 1780, 1840, 1900, 2040, 2100, 2160, 2260, 2340, 2420, 2500, 2580, 2640, 2700,
         2800, 2900, 3000, 3160, 3220, 3280, 3330, 3380, 3420, 3480, 3540, 3620, 3700, 3820, 3900,
         4000, 4060, 4120, 4170, 4220, 4300, 4420, 4460, 4520, 4580, 4660, 4760, 4840, 4892, 4952,
         5012, 5072, 5132, 5212, 5292, 5372, 5432, 5492, 5632, 5692, 5752, 5812, 5900, 5980, 6072,
         6252, 6332, 6392, 6612, 6672, 6772, 6812, 6872, 7052, 7152, 7292, 7332, 7472, 7564, 7672,
         7732, 7792, 7852, 7950, 8040, 8132, 8212, 8272, 8332, 8420, 8520, 8612, 8752, 8812, 8950,
         9092, 9172, 9324, 9712, 9832]
s6393 = [0, 80, 160, 240, 320, 420, 540, 620, 680, 740, 800, 860, 910, 960, 1060, 1200, 1300, 1388, 1480, 1540, 1600,
         1680, 1740, 1800, 1860, 1920, 2012, 2100, 2160, 2220, 2280, 2350, 2420, 2480, 2620, 2840,
         2900, 2980, 3060, 3180, 3240, 3300, 3350, 3400, 3520, 3640, 3860, 3920, 3980, 4030, 4080,
         4300, 4360, 4420, 4480, 4540, 4600, 4660, 4720, 4770, 4820, 4912, 4972, 5032, 5100, 5212,
         5292, 5412, 5692, 5752, 5844, 5932, 5992, 6152, 6232, 6372, 6432, 6532, 6612, 6712, 6812,
         6932, 7032, 7092, 7152, 7212, 7272, 7350, 7430, 7512, 7672, 7792, 7852, 7912, 7972, 8032,
         8092, 8172, 8252, 8332, 8392, 8492, 8572, 8652, 8792, 8892, 9232, 9290, 9350, 9400, 9432,
         9552, 9660, 9792]
s6392 = [120, 180, 240, 300, 360, 420, 480, 540, 620, 700, 780, 880, 1020, 1080, 1160, 1320, 1380, 1520, 1580,
         1700, 1800, 1880, 1940, 2000, 2060, 2130, 2208, 2340, 2420, 2520, 2660, 2720, 2860, 2900,
         2980, 3180, 3300, 3380, 3440, 3500, 3600, 3660, 3720, 3780, 3900, 3960, 4080, 4220, 4300,
         4420, 4480, 4560, 4600, 4660, 4720, 4780, 4892, 4952, 5092, 5172, 5252, 5432, 5512, 5592,
         5672, 5832, 6212, 6292, 6352, 6412, 6592, 6664, 6804, 6904, 7012, 7092, 7152, 7292, 7412,
         7492, 7512, 7652, 7752, 7812, 7872, 7932, 7992, 8052, 8112, 8190, 8280, 8350, 8412, 8452,
         8612, 8732, 8832, 8992, 9072, 9272, 9412, 9692, 9852]
s6391 = [0, 160, 220, 260, 380, 440, 600, 640, 700, 740, 860, 1012, 1100, 1352, 1420, 1500, 1688, 1812, 1920,
         2040, 2120, 2200, 2280, 2320, 2420, 2480, 2520, 2680, 3140, 3220, 3300, 3480, 3600, 3692,
         3860, 4000, 4092, 4240, 4320, 4460, 4620, 4700, 4760, 4880, 4992, 5220, 5364, 5432, 5572,
         5752, 5872, 6032, 6112, 6232, 6352, 6612, 6792, 6900, 7012, 7172, 7292, 7392, 7412, 7492,
         7672, 7732, 7860, 8032, 8172, 8352, 8484, 8760, 8880, 8972, 9100, 9212, 9412, 9520, 9632, 9792]
s6390 = [8, 140, 200, 260, 360, 428, 500, 588, 640, 900, 940, 1184, 1280, 1360, 1460, 1560, 1720, 1820, 1900,
         2000, 2040, 2248, 2380, 2516, 2732, 2840, 2960, 3060, 3252, 3300, 3440, 3500, 3560, 3620,
         3680, 3820, 3880, 3940, 4052, 4220, 4320, 4360, 4520, 4580, 4640, 4700, 4880, 5012, 5152,
         5272, 5400, 5552, 5692, 5892, 6020, 6288, 6396, 6584, 6712, 6832, 6872, 7232, 7452, 7552,
         7892, 8092, 8192, 8372, 8412, 8556, 8752, 8852, 9052, 9112, 9292, 9432, 9572, 9652, 9744]
s6389 = [60, 120, 200, 260, 360, 400, 692, 800, 968, 1040, 1160, 1328, 1440, 1500, 1652, 1712, 1820, 1912, 2172,
         2440, 2584, 2740, 2852, 3000, 3092, 3200, 3268, 3420, 3480, 3540, 3600, 3740, 3836, 4040,
         4140, 4280, 4380, 4500, 4680, 4748, 4880, 5172, 5232, 5440, 5532, 5644, 5832, 5912, 6032,
         6152, 6312, 6372, 6652, 6712, 6772, 6952, 7044, 7248, 7392, 7432, 7612, 7692, 7884, 7980,
         8124, 8252, 8324, 8400, 8580, 8672, 8724, 8852, 9036, 9192, 9252, 9352, 9456, 9552, 9612, 9840]
s6388 = [132, 200, 272, 380, 488, 660, 824, 908, 1040, 1188, 1360, 1420, 1468, 1640, 1700, 1760, 1800, 1868,
         2080, 2128, 2228, 2340, 2580, 2628, 2720, 2840, 3128, 3212, 3352, 3632, 3780, 3900, 4160,
         4392, 4560, 4712, 4812, 5032, 5140, 5232, 5332, 5752, 5932, 6232, 6396, 6484, 6648, 6940,
         7092, 7204, 7392, 7552, 7824, 8332, 8404, 8472, 8540, 8652, 8724, 8820, 9012, 9156, 9612, 9724]
s6387 = [48, 276, 452, 540, 668, 788, 992, 1076, 1300, 1400, 1520, 1560, 1700, 1760, 2228, 2356, 2420, 2500,
         2640, 2840, 2960, 3100, 3160, 3240, 3400, 3764, 3908, 4160, 4220, 4440, 4720, 4760, 4964,
         5032, 5212, 5892, 5952, 6012, 6204, 6300, 6540, 6664, 7344, 7420, 7452, 7524, 7720, 7840,
         7952, 8220, 8292, 8412, 8664, 9024, 9084, 9628]
s6386 = [20, 152, 440, 500, 660, 908, 1016, 1208, 1340, 1460, 1628, 1900, 1980, 2088, 2420, 2564, 2844, 2960,
         3060, 3392, 3480, 3540, 3620, 3848, 4220, 4592, 4772, 4880, 4912, 5124, 5224, 5312, 5916,
         6432, 6528, 6696, 7080, 7200, 7296, 7404, 7496, 7668, 8256, 8460, 8652, 8928, 9312, 9628, 9804]
s6385 = [88, 148, 280, 400, 460, 800, 1240, 1280, 1480, 1780, 1880, 2192, 2780, 2924, 2980, 3112, 3220, 3392,
         3872, 3980, 4256, 4328, 4380, 4640, 4980, 5376, 5688, 6468, 6552, 6612, 7404, 7536, 7668,
         7720, 7932, 8124, 8208, 8676, 8832, 8892, 9640, 9840]
s6384 = [300, 500, 1136, 1292, 1348, 2028, 2408, 2528, 2636, 2972, 3284, 3368, 3464, 4064, 4184, 5052, 5100,
         5620, 5664, 6036, 6276, 6552, 6724, 6772, 7500, 7548, 7644, 8004, 8160, 8928, 9204, 9480]
s6383 = [596, 920, 1888, 2276, 2408, 2552, 2948, 3032, 3380, 3512, 3824, 3980, 4556, 4712, 4892, 4920, 5256,
         5388, 6060, 6276, 7072, 7140, 7644, 8640, 9432]
s6382 = [788, 1208, 2096, 2200, 2228, 2300, 3152, 3392, 4856, 7536, 7812, 8208, 8532, 9516]
s6381 = [20, 308, 440, 812, 1616, 1676, 1772, 1856, 2084, 3044, 3176, 4736, 4868, 6672, 6756, 7212, 7260, 7932,
         8220, 8988]
s6380 = [1400, 1664, 2156, 2720, 4424, 4652, 5144, 5196, 5592, 6648, 6708, 7380, 7560, 9348, 9816]
s6379 = [2192, 2588, 2864, 5268, 6132, 6444, 7224, 7284, 7332, 8304, 8916, 9132]
s6378 = [2624, 3752, 3992, 7428]
s6377 = [1376, 1904]
s6376 = [176, 236, 3992, 8868]
s6375 = [3236, 6180, 6420]
s6374 = [44, 2324]
s6372 = [260]
s6370 = [7224]

adc_levels = [6432, 6431, 6430, 6429, 6428, 6427, 6426, 6425, 6424, 6423, 6422, 6421, 6420, 6419, 6418, 6417,
              6416, 6415, 6414, 6413, 6412, 6411, 6410, 6409, 6408, 6407, 6406, 6405, 6404, 6403, 6402,
              6401, 6400, 6399, 6398, 6397, 6396, 6395, 6394, 6393, 6392, 6391, 6390, 6389, 6388, 6387,
              6386, 6385, 6384, 6383, 6382, 6381, 6380, 6379, 6378, 6377, 6376, 6375, 6374, 6372, 6370]
samples_per_level = [s6432, s6431, s6430, s6429, s6428, s6427, s6426, s6425, s6424, s6423, s6422, s6421, s6420,
                     s6419, s6418, s6417, s6416, s6415, s6414, s6413, s6412, s6411, s6410, s6409, s6408,
                     s6407, s6406, s6405, s6404, s6403, s6402, s6401, s6400, s6399, s6398, s6397, s6396,
                     s6395, s6394, s6393, s6392, s6391, s6390, s6389, s6388, s6387, s6386, s6385, s6384,
                     s6383, s6382, s6381, s6380, s6379, s6378, s6377, s6376, s6375, s6374, s6372, s6370]

x = []
y = []
for level, samples in zip(adc_levels, samples_per_level):
    x.extend(samples)
    y.extend([level] * len(samples))

plt.figure(figsize=(10, 10))
plt.plot(x, y, "k.", label="Samples\n$\\mu$ = 6403.43, $\\sigma$ = 8.71")
plt.xlabel("Sample #")
plt.ylabel("ADC Counts")
plt.title("Run 569, channel015, Pedestal")
plt.legend(loc="upper right")
plt.grid(True)
plt.subplots_adjust(left=0.081, right=0.985, top=0.965, bottom=0.059)
plt.savefig("out.png", dpi=100)
plt.close()
